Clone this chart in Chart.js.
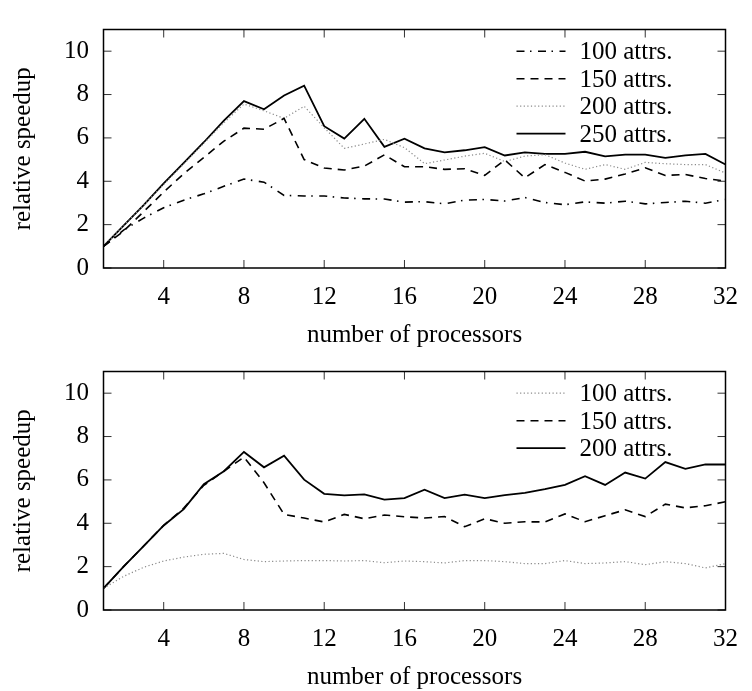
<!DOCTYPE html>
<html>
<head>
<meta charset="utf-8">
<script src="https://cdn.jsdelivr.net/npm/chart.js@4"></script>
<style>
  body { margin: 0; background: #fff; width: 752px; height: 691px; position: relative; overflow: hidden; }
  canvas { position: absolute; left: 0; }
  #chartTop { top: 0; }
  #chartBottom { top: 342px; }
</style>
</head>
<body>
<canvas id="chartTop" width="752" height="349"></canvas>
<canvas id="chartBottom" width="752" height="349"></canvas>
<script>
// x values (number of processors) and tick labels
const processors = [1, 2, 3, 4, 5, 6, 7, 8, 9, 10, 11, 12, 13, 14, 15, 16,
                    17, 18, 19, 20, 21, 22, 23, 24, 25, 26, 27, 28, 29, 30, 31, 32];
const xTicks = [4, 8, 12, 16, 20, 24, 28, 32];
const yTicks = [0, 2, 4, 6, 8, 10];

// top panel
const top100 = [1.0, 1.75, 2.3, 2.78, 3.13, 3.42, 3.77, 4.1, 3.96, 3.35, 3.32, 3.32, 3.23, 3.19, 3.18, 3.04,
                3.06, 2.96, 3.13, 3.16, 3.09, 3.25, 3.02, 2.92, 3.05, 2.99, 3.08, 2.96, 3.02, 3.08, 2.99, 3.16];
const top150 = [1.0, 1.7, 2.6, 3.5, 4.35, 5.1, 5.85, 6.45, 6.4, 6.9, 5.0, 4.61, 4.52, 4.7, 5.22, 4.67,
                4.67, 4.55, 4.58, 4.27, 4.98, 4.16, 4.77, 4.41, 4.01, 4.1, 4.34, 4.62, 4.27, 4.31, 4.13, 4.01];
const top200 = [1.0, 1.95, 2.9, 3.85, 4.8, 5.75, 6.7, 7.56, 7.25, 6.9, 7.46, 6.47, 5.52, 5.72, 5.93, 5.55,
                4.81, 4.98, 5.16, 5.29, 4.91, 5.16, 5.23, 4.84, 4.55, 4.77, 4.55, 4.87, 4.81, 4.77, 4.77, 4.38];
const top250 = [1.0, 1.95, 2.9, 3.9, 4.85, 5.8, 6.8, 7.7, 7.32, 7.96, 8.41, 6.54, 5.97, 6.88, 5.59, 5.96,
                5.52, 5.33, 5.43, 5.57, 5.19, 5.33, 5.26, 5.26, 5.36, 5.15, 5.23, 5.23, 5.08, 5.19, 5.26, 4.77];

// bottom panel
const bottom100 = [1.0, 1.55, 1.97, 2.26, 2.44, 2.57, 2.61, 2.33, 2.23, 2.26, 2.28, 2.28, 2.26, 2.28, 2.18, 2.26,
                   2.23, 2.17, 2.28, 2.28, 2.23, 2.14, 2.14, 2.28, 2.14, 2.17, 2.23, 2.09, 2.23, 2.14, 1.94, 2.14];
const bottom150 = [1.0, 2.0, 2.95, 3.9, 4.7, 5.75, 6.4, 7.05, 5.87, 4.41, 4.24, 4.06, 4.41, 4.21, 4.38, 4.30,
                   4.24, 4.31, 3.84, 4.21, 4.0, 4.07, 4.06, 4.43, 4.07, 4.35, 4.62, 4.31, 4.88, 4.71, 4.81, 4.99];
const bottom200 = [1.0, 2.0, 2.95, 3.9, 4.65, 5.8, 6.4, 7.29, 6.58, 7.12, 6.01, 5.36, 5.29, 5.33, 5.09, 5.16,
                   5.55, 5.16, 5.32, 5.16, 5.30, 5.40, 5.57, 5.77, 6.17, 5.77, 6.34, 6.06, 6.82, 6.51, 6.72, 6.71];

const FONT = { family: '"Liberation Serif", "Times New Roman", serif', size: 25 };

// line styles
const solid = { borderColor: '#000', borderWidth: 1.8, borderDash: [] };
const dashed = { borderColor: '#000', borderWidth: 1.6, borderDash: [8, 6] };
const dashDot = { borderColor: '#000', borderWidth: 1.6, borderDash: [8, 5.5, 1.5, 6.5] };
const dotted = { borderColor: '#8a8a8a', borderWidth: 1.2, borderDash: [1.2, 2.4] };

function series(label, values, style) {
  return Object.assign({
    label: label,
    data: values.map((v, i) => ({ x: processors[i], y: v })),
    pointRadius: 0,
    tension: 0,
    fill: false
  }, style);
}

// box, inward ticks and the key inside the plot
const framePlugin = {
  id: 'frame',
  afterDraw(chart) {
    const { ctx, chartArea: a, scales: { x, y } } = chart;
    ctx.save();
    ctx.strokeStyle = '#333';
    ctx.lineWidth = 1;
    ctx.beginPath();
    xTicks.forEach(v => {
      const px = x.getPixelForValue(v);
      ctx.moveTo(px, a.bottom); ctx.lineTo(px, a.bottom - 8);
      ctx.moveTo(px, a.top); ctx.lineTo(px, a.top + 8);
    });
    yTicks.forEach(v => {
      const py = y.getPixelForValue(v);
      ctx.moveTo(a.left, py); ctx.lineTo(a.left + 8, py);
      ctx.moveTo(a.right, py); ctx.lineTo(a.right - 8, py);
    });
    ctx.stroke();

    ctx.strokeStyle = '#000';
    ctx.lineWidth = 1.5;
    ctx.strokeRect(a.left, a.top, a.right - a.left, a.bottom - a.top);

    // key
    ctx.font = FONT.size + 'px ' + FONT.family;
    ctx.textBaseline = 'middle';
    ctx.textAlign = 'left';
    ctx.fillStyle = '#000';
    chart.data.datasets.forEach((ds, i) => {
      const ly = a.top + 21.7 + i * 27.5;
      ctx.beginPath();
      ctx.strokeStyle = ds.borderColor;
      ctx.lineWidth = ds.borderWidth;
      ctx.setLineDash(ds.borderDash);
      ctx.moveTo(a.right - 209, ly);
      ctx.lineTo(a.right - 160, ly);
      ctx.stroke();
      ctx.setLineDash([]);
      ctx.fillText(ds.label, a.right - 146, ly + 1.5);
    });
    ctx.restore();
  }
};

function makeChart(id, datasets) {
  return new Chart(document.getElementById(id).getContext('2d'), {
    type: 'line',
    data: { datasets: datasets },
    options: {
      responsive: false,
      maintainAspectRatio: false,
      animation: false,
      layout: { padding: { top: 9, right: 13, left: 0, bottom: 4 } },
      plugins: { legend: { display: false }, tooltip: { enabled: false } },
      scales: {
        x: {
          type: 'linear',
          min: 1,
          max: 32,
          afterBuildTicks: s => { s.ticks = xTicks.map(v => ({ value: v })); },
          afterFit: s => { s.height = 77; },
          grid: { display: false, drawTicks: false },
          border: { display: false },
          ticks: { color: '#000', font: FONT, padding: 14, autoSkip: false, maxRotation: 0 },
          title: { display: true, text: 'number of processors', color: '#000',
                   font: Object.assign({}, FONT, { lineHeight: 0.8 }), padding: { top: 0, bottom: 0 } }
        },
        y: {
          min: 0,
          max: 11,
          afterBuildTicks: s => { s.ticks = yTicks.map(v => ({ value: v })); },
          afterFit: s => { s.width = 103.5; },
          grid: { display: false, drawTicks: false },
          border: { display: false },
          ticks: { color: '#000', font: FONT, padding: 14.5 },
          title: { display: true, text: 'relative speedup', color: '#000',
                   font: FONT, padding: { top: 8, bottom: 0 } }
        }
      }
    },
    plugins: [framePlugin]
  });
}

makeChart('chartTop', [
  series('100 attrs.', top100, dashDot),
  series('150 attrs.', top150, dashed),
  series('200 attrs.', top200, dotted),
  series('250 attrs.', top250, solid)
]);

makeChart('chartBottom', [
  series('100 attrs.', bottom100, dotted),
  series('150 attrs.', bottom150, dashed),
  series('200 attrs.', bottom200, solid)
]);
</script>
</body>
</html>
